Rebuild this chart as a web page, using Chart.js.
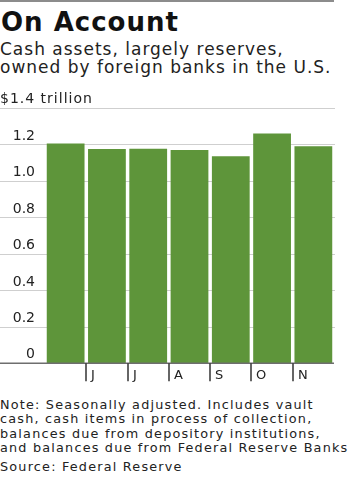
<!DOCTYPE html>
<html>
<head>
<meta charset="utf-8">
<script src="https://cdn.jsdelivr.net/npm/chart.js@4"></script>
<style>
    body { margin: 0; width: 359px; height: 479px; background: #fff; font-family: "DejaVu Sans", sans-serif; color: #111; overflow: hidden; }
    .rule { position: absolute; left: 0; top: 0; width: 334px; border-top: 2px solid #8c8c8c; }
    h1 { position: absolute; left: 1px; top: 7px; margin: 0; font-size: 26px; font-weight: bold; letter-spacing: 1px; white-space: nowrap; }
    .sub { position: absolute; left: 0; top: 40px; margin: 0; font-size: 17px; line-height: 18px; letter-spacing: 1px; color: #222; white-space: nowrap; }
    #wrap { position: absolute; left: 0; top: 84px; width: 359px; height: 306px; }
    .note { position: absolute; left: 0; top: 398px; margin: 0; font-size: 12.8px; line-height: 14.4px; letter-spacing: 1.2px; color: #222; white-space: nowrap; }
    .src { position: absolute; left: 0; top: 459px; margin: 0; font-size: 12.8px; letter-spacing: 1.2px; color: #222; white-space: nowrap; }
</style>
</head>
<body>
<div class="rule"></div>
<h1>On Account</h1>
<p class="sub">Cash assets, largely reserves,<br>owned by foreign banks in the U.S.</p>
<div id="wrap"><canvas id="chart"></canvas></div>
<p class="note">Note: Seasonally adjusted. Includes vault<br>cash, cash items in process of collection,<br>balances due from depository institutions,<br>and balances due from Federal Reserve Banks</p>
<p class="src">Source: Federal Reserve</p>

<script>
// monthly cash assets, trillions of dollars (May through November)
const months = ['May', 'Jun', 'Jul', 'Aug', 'Sep', 'Oct', 'Nov'];
const monthLabels = ['', 'J', 'J', 'A', 'S', 'O', 'N'];
const cashAssets = [1.205, 1.175, 1.177, 1.170, 1.135, 1.26, 1.19];
const yTicks = [0, 0.2, 0.4, 0.6, 0.8, 1.0, 1.2, 1.4];
const unitLabel = '$1.4 trillion';

document.addEventListener("DOMContentLoaded", function () {
    const font = '"DejaVu Sans", sans-serif';

    const wsjAxes = {
        id: 'wsjAxes',
        beforeDatasetsDraw(chart) {
            const ctx = chart.ctx;
            const y = chart.scales.y;
            const area = chart.chartArea;
            ctx.save();
            ctx.strokeStyle = '#cfcfcf';
            ctx.lineWidth = 1;
            yTicks.forEach(function (v) {
                if (v === 0) return;
                const py = Math.round(y.getPixelForValue(v)) + 0.5;
                ctx.beginPath();
                ctx.moveTo(0, py);
                ctx.lineTo(area.right + 1, py);
                ctx.stroke();
            });
            // unit label above the top gridline
            ctx.fillStyle = '#222';
            ctx.font = '14px ' + font;
            ctx.letterSpacing = '1px';
            ctx.textAlign = 'left';
            ctx.textBaseline = 'alphabetic';
            ctx.fillText(unitLabel, 0, y.getPixelForValue(1.4) - 5);
            ctx.restore();
        },
        afterDatasetsDraw(chart) {
            const ctx = chart.ctx;
            const x = chart.scales.x;
            const y = chart.scales.y;
            const area = chart.chartArea;
            const base = y.getPixelForValue(0);
            ctx.save();
            ctx.strokeStyle = '#6e6e6e';
            ctx.lineWidth = 1.5;
            ctx.beginPath();
            ctx.moveTo(0, base);
            ctx.lineTo(area.right, base);
            ctx.stroke();

            ctx.strokeStyle = '#333';
            ctx.fillStyle = '#222';
            ctx.font = '13px ' + font;
            ctx.textAlign = 'left';
            ctx.textBaseline = 'alphabetic';
            for (let i = 1; i < months.length; i++) {
                const bx = Math.round((x.getPixelForValue(i - 1) + x.getPixelForValue(i)) / 2);
                ctx.beginPath();
                ctx.moveTo(bx, base);
                ctx.lineTo(bx, base + 18);
                ctx.stroke();
                ctx.fillText(monthLabels[i], bx + 5, base + 16);
            }
            ctx.restore();
        }
    };

    const ctx = document.getElementById('chart').getContext('2d');
    new Chart(ctx, {
        type: 'bar',
        data: {
            labels: months,
            datasets: [{
                label: 'Cash assets',
                data: cashAssets,
                backgroundColor: '#5e953a',
                borderWidth: 0,
                categoryPercentage: 1,
                barPercentage: 0.915
            }]
        },
        options: {
            responsive: true,
            maintainAspectRatio: false,
            animation: false,
            layout: { padding: { top: 24, right: 25, bottom: 25, left: 0 } },
            plugins: {
                legend: { display: false },
                tooltip: { enabled: false }
            },
            scales: {
                x: {
                    display: false
                },
                y: {
                    min: 0,
                    max: 1.4,
                    afterFit: function (scale) { scale.width = 45; },
                    afterBuildTicks: function (scale) {
                        scale.ticks = yTicks.map(function (v) { return { value: v }; });
                    },
                    grid: { display: false, drawTicks: false },
                    border: { display: false },
                    ticks: {
                        padding: 10,
                        color: '#222',
                        font: { family: font, size: 14, lineHeight: 1.2 },
                        callback: function (v) {
                            if (v >= 1.4) return '';
                            const s = v === 0 ? '0' : v.toFixed(1);
                            return [s, ''];
                        }
                    }
                }
            }
        },
        plugins: [wsjAxes]
    });
});
</script>
</body>
</html>
